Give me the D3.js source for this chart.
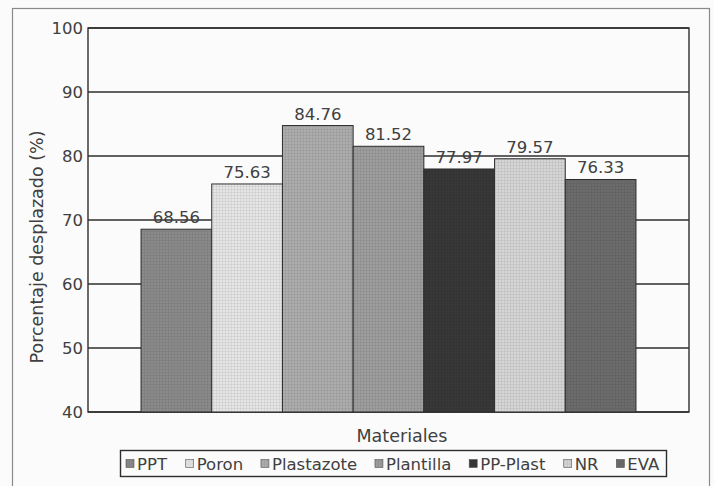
<!DOCTYPE html>
<html>
<head>
<meta charset="utf-8">
<script src="https://cdn.jsdelivr.net/npm/d3@7"></script>
<style>
  body { margin: 0; background: #fbfbfb; }
  svg { display: block; }
  text { font-family: "DejaVu Sans", sans-serif; fill: #404040; }
</style>
</head>
<body>
<div id="chart"></div>
<script>
// data
const materials = ['PPT', 'Poron', 'Plastazote', 'Plantilla', 'PP-Plast', 'NR', 'EVA'];
const values = [68.56, 75.63, 84.76, 81.52, 77.97, 79.57, 76.33];
const fills = ['#8a8a8a', '#e6e6e6', '#adadad', '#9e9e9e', '#383838', '#d6d6d6', '#6c6c6c'];
const yTicks = [40, 50, 60, 70, 80, 90, 100];

const width = 714, height = 486;
const margin = { top: 28, right: 25, bottom: 74, left: 88 };

const svg = d3.select('#chart').append('svg')
  .attr('width', width)
  .attr('height', height);

// outer frame of the scanned figure
svg.append('rect')
  .attr('x', 12.5).attr('y', 8.5)
  .attr('width', 697).attr('height', 500)
  .attr('fill', 'none')
  .attr('stroke', '#8a8a8a')
  .attr('stroke-width', 1.2);

// a fine grid texture for each fill, like the halftone in the print
const defs = svg.append('defs');
fills.forEach((c, i) => {
  const p = defs.append('pattern')
    .attr('id', `tex${i}`)
    .attr('width', 3).attr('height', 3)
    .attr('patternUnits', 'userSpaceOnUse');
  p.append('rect').attr('width', 3).attr('height', 3).attr('fill', c);
  p.append('path')
    .attr('d', 'M0,0.5H3M0.5,0V3')
    .attr('stroke', d3.color(c).darker(0.35))
    .attr('stroke-width', 0.6);
});

const plotW = width - margin.left - margin.right;
const plotH = height - margin.top - margin.bottom;

const x = d3.scaleBand()
  .domain(materials)
  .range([margin.left, margin.left + plotW])
  .paddingInner(0)
  .paddingOuter(0.75);

const y = d3.scaleLinear()
  .domain([40, 100])
  .range([margin.top + plotH, margin.top]);

// grid lines
svg.append('g')
  .selectAll('line')
  .data(yTicks)
  .join('line')
  .attr('x1', margin.left)
  .attr('x2', margin.left + plotW)
  .attr('y1', d => y(d))
  .attr('y2', d => y(d))
  .attr('stroke', '#2e2e2e')
  .attr('stroke-width', 1.4);

// plot border
svg.append('rect')
  .attr('x', margin.left).attr('y', margin.top)
  .attr('width', plotW).attr('height', plotH)
  .attr('fill', 'none')
  .attr('stroke', '#2e2e2e')
  .attr('stroke-width', 1.4);

// bars
svg.append('g')
  .selectAll('rect')
  .data(values)
  .join('rect')
  .attr('x', (d, i) => x(materials[i]))
  .attr('y', d => y(d))
  .attr('width', x.bandwidth())
  .attr('height', d => y(40) - y(d))
  .attr('fill', (d, i) => `url(#tex${i})`)
  .attr('stroke', '#2e2e2e')
  .attr('stroke-width', 1);

// value labels
svg.append('g')
  .selectAll('text')
  .data(values)
  .join('text')
  .attr('x', (d, i) => x(materials[i]) + x.bandwidth() / 2)
  .attr('y', d => y(d) - 6)
  .attr('text-anchor', 'middle')
  .attr('font-size', 16.5)
  .text(d => d.toFixed(2));

// y axis
const yAxis = svg.append('g')
  .attr('transform', `translate(${margin.left},0)`)
  .call(d3.axisLeft(y).tickValues(yTicks).tickSize(0).tickPadding(5));
yAxis.select('.domain').remove();
yAxis.selectAll('text')
  .attr('font-size', 16.5)
  .attr('font-family', '"DejaVu Sans", sans-serif')
  .attr('fill', '#404040');

// axis titles
svg.append('text')
  .attr('transform', 'translate(43,247) rotate(-90)')
  .attr('text-anchor', 'middle')
  .attr('font-size', 17.5)
  .text('Porcentaje desplazado (%)');

svg.append('text')
  .attr('x', 402)
  .attr('y', 442)
  .attr('text-anchor', 'middle')
  .attr('font-size', 17.5)
  .text('Materiales');

// legend
const legX = 120, legY = 450, legW = 546, legH = 26;
svg.append('rect')
  .attr('x', legX + 0.5).attr('y', legY + 0.5)
  .attr('width', legW).attr('height', legH)
  .attr('fill', 'none')
  .attr('stroke', '#2e2e2e')
  .attr('stroke-width', 1.4);

const leg = svg.append('g');
const items = leg.selectAll('g')
  .data(materials)
  .join('g');
items.append('rect')
  .attr('width', 8).attr('height', 8)
  .attr('y', -4)
  .attr('fill', (d, i) => `url(#tex${i})`)
  .attr('stroke', '#555')
  .attr('stroke-width', 0.6);
items.append('text')
  .attr('x', 11)
  .attr('y', 6)
  .attr('font-size', 16.5)
  .text(d => d);

// spread the items evenly across the box
const widths = [];
items.each(function () { widths.push(this.getBBox().width); });
const total = d3.sum(widths);
const gap = (legW - 12 - total) / (materials.length - 1);
let cx = legX + 6;
items.attr('transform', (d, i) => {
  const t = `translate(${cx},${legY + legH / 2 + 0.5})`;
  cx += widths[i] + gap;
  return t;
});
</script>
</body>
</html>
